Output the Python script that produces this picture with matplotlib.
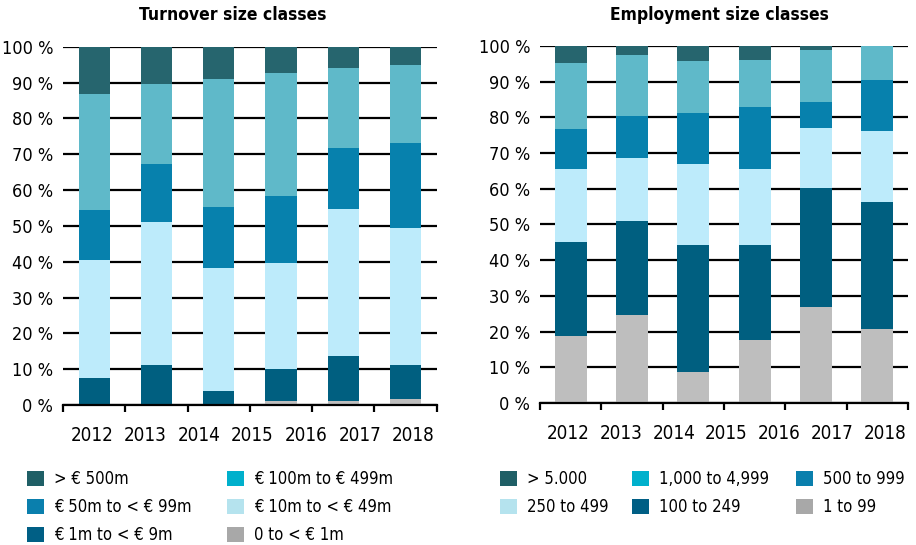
import matplotlib
matplotlib.use("Agg")
import matplotlib.pyplot as plt
from matplotlib.patches import Patch
import numpy as np

plt.rcParams['font.family'] = ['DejaVu Sans']
plt.rcParams['font.stretch'] = 'condensed'

years = ["2012", "2013", "2014", "2015", "2016", "2017", "2018"]
y_labels = ["0 %", "10 %", "20 %", "30 %", "40 %", "50 %", "60 %", "70 %", "80 %", "90 %", "100 %"]

# Turnover size classes (bottom -> top), 6 bars
turn_0_1 = [0.0, 0.0, 0.0, 1.0, 1.0, 1.8]
turn_1_9 = [7.6, 11.3, 3.9, 9.0, 12.6, 9.5]
turn_10_49 = [32.9, 39.7, 34.3, 29.7, 41.0, 38.1]
turn_50_99 = [13.9, 16.2, 17.1, 18.6, 17.1, 23.7]
turn_100_499 = [32.3, 22.4, 35.8, 34.4, 22.3, 21.8]
turn_500 = [13.3, 10.4, 8.9, 7.3, 6.0, 5.1]
turn_names = ["0 to < € 1m", "€ 1m to < € 9m", "€ 10m to < € 49m",
              "€ 50m to < € 99m", "€ 100m to € 499m", "> € 500m"]

# Employment size classes (bottom -> top)
emp_1_99 = [18.7, 24.6, 8.8, 17.7, 26.9, 20.8]
emp_100_249 = [26.4, 26.4, 35.4, 26.5, 33.2, 35.5]
emp_250_499 = [20.5, 17.6, 22.8, 21.4, 16.8, 19.9]
emp_500_999 = [11.2, 11.9, 14.3, 17.2, 7.4, 14.3]
emp_1000_4999 = [18.4, 17.0, 14.5, 13.2, 14.6, 9.5]
emp_5000 = [4.9, 2.5, 4.2, 4.2, 1.1, 0.0]
emp_names = ["1 to 99", "100 to 249", "250 to 499", "500 to 999", "1,000 to 4,999", "> 5.000"]

bar_colors = ["#bebebe", "#005f80", "#bdebfb", "#0781ad", "#5fb9c9", "#26656e"]
leg_colors = ["#a8a8a8", "#005f85", "#b5e3ee", "#0a7fad", "#00b0cc", "#1f5f66"]

fig = plt.figure(figsize=(9.16, 5.45), dpi=100)
axL = fig.add_axes([0.0688, 0.2569, 0.408, 0.6574])
axR = fig.add_axes([0.5895, 0.2606, 0.4017, 0.655])

def draw(ax, series, width, title, title_x):
    x = np.arange(len(series[0])) + 0.5
    bottom = np.zeros(len(x))
    for vals, c in zip(series, bar_colors):
        v = np.array(vals)
        ax.bar(x, v, width=width, bottom=bottom, color=c, zorder=3, linewidth=0)
        bottom += v
    ax.set_xlim(0, 6)
    ax.set_ylim(0, 100)
    ax.set_yticks(np.arange(0, 101, 10))
    ax.set_yticklabels(y_labels, fontsize=13)
    ax.tick_params(axis='y', length=0, pad=7)
    ax.yaxis.grid(True, color='black', linewidth=1.6, zorder=1)
    ax.set_axisbelow(True)
    for s in ['left', 'right', 'top']:
        ax.spines[s].set_visible(False)
    ax.spines['bottom'].set_linewidth(1.6)
    ax.spines['bottom'].set_zorder(4)
    ax.set_xticks(np.arange(0, 7))
    ax.set_xticklabels([])
    ax.tick_params(axis='x', which='major', length=5, width=1.6, direction='out')
    minor_pos = [0.46 + i * 0.861 for i in range(len(years))]
    ax.set_xticks(minor_pos, minor=True)
    ax.set_xticklabels(years, minor=True, fontsize=13.5)
    ax.tick_params(axis='x', which='minor', length=0, pad=15)
    ax.set_title(title, fontsize=12.5, fontweight='bold', pad=19, x=title_x)

draw(axL, [turn_0_1, turn_1_9, turn_10_49, turn_50_99, turn_100_499, turn_500], 0.5,
     "Turnover size classes", 0.455)
draw(axR, [emp_1_99, emp_100_249, emp_250_499, emp_500_999, emp_1000_4999, emp_5000], 0.52,
     "Employment size classes", 0.489)

def column_legend(idx_list, names, x_px):
    h = [Patch(facecolor=leg_colors[i], edgecolor='none', label=names[i]) for i in idx_list]
    fig.legend(handles=h, loc='upper left', bbox_to_anchor=(x_px / 916, 0.138), ncol=1,
               frameon=False, fontsize=12, handlelength=1.0, handleheight=1.0,
               handletextpad=0.6, labelspacing=0.62, borderaxespad=0, borderpad=0)

# left legend columns
column_legend([5, 3, 1], turn_names, 27)
column_legend([4, 2, 0], turn_names, 227)
# right legend columns
column_legend([5, 2], emp_names, 500)
column_legend([4, 1], emp_names, 632)
column_legend([3, 0], emp_names, 796)

fig.savefig("out.png", dpi=100)
